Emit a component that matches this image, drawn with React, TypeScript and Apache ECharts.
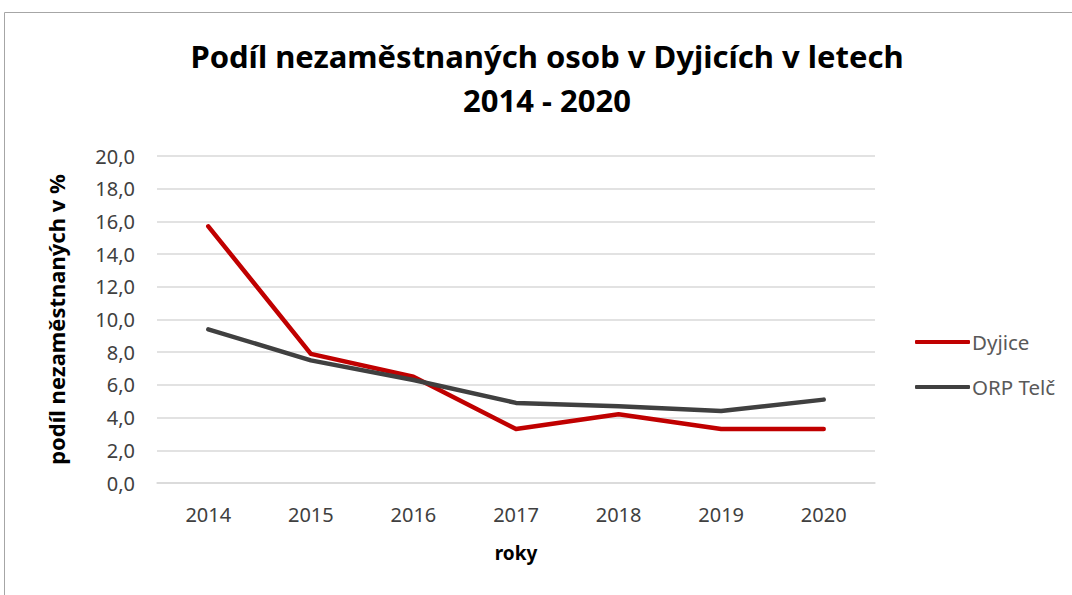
import React, { useEffect, useRef } from "react";
import * as echarts from "echarts";

const years = ["2014", "2015", "2016", "2017", "2018", "2019", "2020"];
const dyjice = [15.7, 7.9, 6.5, 3.3, 4.2, 3.3, 3.3];
const orpTelc = [9.4, 7.5, 6.3, 4.9, 4.7, 4.4, 5.1];
const titleText = "Podíl nezaměstnaných osob v Dyjicích v letech\n2014 - 2020";
const yAxisName = "podíl nezaměstnaných v %";
const xAxisName = "roky";

const FONT = "'Noto Sans', sans-serif";

export default function App() {
  const ref = useRef<HTMLDivElement>(null);
  useEffect(() => {
    if (!ref.current) return;
    const chart = echarts.init(ref.current, undefined, { renderer: "svg" });
    chart.setOption({
      animation: false,
      backgroundColor: "#ffffff",
      textStyle: { fontFamily: FONT },
      graphic: [
        {
          type: "rect",
          shape: { x: 4.5, y: 12.5, width: 1080, height: 600 },
          style: { fill: "none", stroke: "#a6a6a6", lineWidth: 1 },
          silent: true,
        },
      ],
      title: {
        text: titleText,
        left: 542,
        top: 29,
        textAlign: "center",
        textStyle: {
          fontFamily: FONT,
          fontSize: 31,
          fontWeight: "bold",
          color: "#000000",
          lineHeight: 44,
        },
      },
      legend: {
        orient: "vertical",
        left: 910,
        top: 326,
        itemWidth: 55,
        itemHeight: 4,
        itemGap: 23,
        icon: "roundRect",
        textStyle: { fontFamily: FONT, fontSize: 20.5, lineHeight: 22, color: "#595959", padding: [0, 0, 0, -3] },
        data: ["Dyjice", "ORP Telč"],
      },
      grid: { left: 157, right: 197, top: 156, bottom: 112 },
      xAxis: {
        type: "category",
        data: years,
        boundaryGap: true,
        name: xAxisName,
        nameLocation: "middle",
        nameGap: 60,
        nameTextStyle: { fontFamily: FONT, fontSize: 19, fontWeight: "bold", color: "#000000" },
        axisLine: { show: true, lineStyle: { color: "#d9d9d9", width: 1.5 } },
        axisTick: { show: false },
        axisLabel: { fontFamily: FONT, fontSize: 20, color: "#404040", margin: 21 },
      },
      yAxis: {
        type: "value",
        min: 0,
        max: 20,
        interval: 2,
        name: yAxisName,
        nameLocation: "middle",
        nameGap: 90,
        nameRotate: 90,
        nameTextStyle: { fontFamily: FONT, fontSize: 22, fontWeight: "bold", color: "#000000" },
        axisLine: { show: false },
        axisTick: { show: false },
        splitLine: { lineStyle: { color: "#d9d9d9", width: 1.5 } },
        axisLabel: {
          fontFamily: FONT,
          fontSize: 20,
          color: "#404040",
          margin: 22,
          formatter: (v: number) => v.toFixed(1).replace(".", ","),
        },
      },
      series: [
        {
          name: "Dyjice",
          type: "line",
          data: dyjice,
          symbol: "none",
          lineStyle: { color: "#c00000", width: 4.5, cap: "round", join: "round" },
          itemStyle: { color: "#c00000" },
        },
        {
          name: "ORP Telč",
          type: "line",
          data: orpTelc,
          symbol: "none",
          lineStyle: { color: "#404040", width: 4.5, cap: "round", join: "round" },
          itemStyle: { color: "#404040" },
        },
      ],
    });
    return () => chart.dispose();
  }, []);
  return <div ref={ref} style={{ width: 1072, height: 595, position: "absolute", left: 0, top: 0 }} />;
}
